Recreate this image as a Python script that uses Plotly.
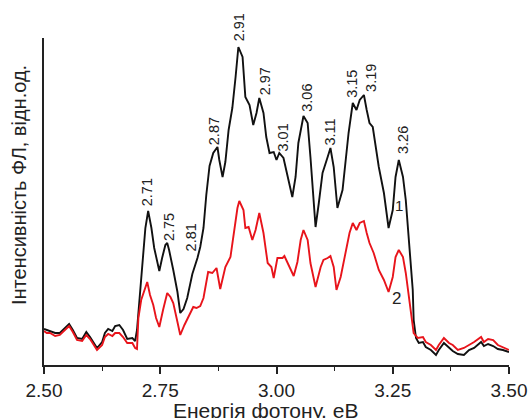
import plotly.graph_objects as go

# Photon energy (eV) and PL intensity (arb. units), curve 1 (black)
energy_1 = [2.500, 2.506, 2.513, 2.524, 2.534, 2.545, 2.554, 2.562, 2.571, 2.582,
            2.591, 2.599, 2.608, 2.614, 2.625, 2.631, 2.638, 2.647, 2.653, 2.662,
            2.670, 2.679, 2.690, 2.696, 2.700, 2.705, 2.711, 2.718, 2.724, 2.731,
            2.737, 2.744, 2.748, 2.754, 2.761, 2.765, 2.769, 2.778, 2.787, 2.793,
            2.800, 2.808, 2.819, 2.830, 2.836, 2.843, 2.849, 2.856, 2.864, 2.873,
            2.877, 2.884, 2.890, 2.897, 2.905, 2.912, 2.918, 2.927, 2.933, 2.942,
            2.950, 2.957, 2.963, 2.972, 2.978, 2.985, 2.994, 3.000, 3.006, 3.015,
            3.022, 3.028, 3.034, 3.041, 3.047, 3.058, 3.067, 3.073, 3.080, 3.084,
            3.091, 3.099, 3.110, 3.116, 3.123, 3.131, 3.142, 3.149, 3.155, 3.164,
            3.172, 3.179, 3.188, 3.194, 3.200, 3.207, 3.213, 3.220, 3.231, 3.241,
            3.250, 3.256, 3.263, 3.272, 3.278, 3.284, 3.289, 3.293, 3.295, 3.300,
            3.306, 3.315, 3.321, 3.332, 3.343, 3.349, 3.360, 3.371, 3.379, 3.390,
            3.403, 3.414, 3.425, 3.440, 3.446, 3.455, 3.466, 3.476, 3.487, 3.500]
intensity_1 = [36, 35, 34, 32, 32, 37, 41, 35, 27, 26,
               33, 28, 22, 17, 23, 32, 36, 34, 39, 40,
               35, 26, 27, 24, 35, 65, 103, 137, 154, 137,
               117, 103, 94, 107, 120, 122, 115, 95, 73, 52,
               56, 67, 91, 107, 118, 137, 170, 199, 212, 218,
               205, 188, 203, 235, 257, 288, 318, 308, 268, 260,
               240, 252, 267, 252, 228, 212, 213, 205, 212, 207,
               193, 183, 168, 188, 222, 249, 242, 208, 165, 138,
               162, 192, 208, 217, 198, 157, 175, 205, 232, 262,
               255, 265, 270, 255, 242, 238, 218, 198, 172, 137,
               155, 188, 205, 188, 165, 125, 100, 75, 45, 27,
               22, 23, 18, 15, 10, 15, 22, 17, 14, 11,
               10, 15, 17, 23, 19, 21, 19, 16, 15, 13]

# Curve 2 (red)
energy_2 = [2.500, 2.506, 2.513, 2.524, 2.534, 2.545, 2.554, 2.562, 2.571, 2.582,
            2.591, 2.599, 2.608, 2.614, 2.625, 2.631, 2.638, 2.647, 2.653, 2.662,
            2.670, 2.679, 2.690, 2.696, 2.700, 2.703, 2.709, 2.716, 2.722, 2.728,
            2.735, 2.741, 2.748, 2.756, 2.765, 2.772, 2.778, 2.787, 2.793, 2.802,
            2.810, 2.821, 2.828, 2.836, 2.843, 2.849, 2.853, 2.862, 2.871, 2.879,
            2.890, 2.901, 2.907, 2.916, 2.920, 2.929, 2.933, 2.940, 2.948, 2.955,
            2.963, 2.972, 2.981, 2.989, 2.994, 3.002, 3.013, 3.017, 3.026, 3.037,
            3.045, 3.052, 3.058, 3.067, 3.073, 3.084, 3.095, 3.101, 3.110, 3.116,
            3.123, 3.129, 3.138, 3.149, 3.157, 3.164, 3.172, 3.179, 3.188, 3.194,
            3.200, 3.209, 3.220, 3.231, 3.241, 3.250, 3.256, 3.263, 3.272, 3.278,
            3.284, 3.289, 3.293, 3.295, 3.304, 3.315, 3.321, 3.332, 3.343, 3.349,
            3.360, 3.371, 3.379, 3.390, 3.403, 3.414, 3.425, 3.440, 3.446, 3.455,
            3.466, 3.476, 3.487, 3.500]
intensity_2 = [34, 32, 32, 29, 30, 35, 39, 33, 25, 24,
               30, 26, 19, 15, 20, 28, 31, 29, 32, 32,
               28, 22, 22, 17, 16, 47, 65, 75, 83, 70,
               60, 47, 38, 55, 72, 68, 62, 43, 30, 40,
               48, 58, 57, 59, 67, 83, 93, 92, 97, 76,
               98, 108, 128, 157, 164, 155, 137, 138, 125, 135,
               152, 132, 102, 98, 87, 107, 107, 109, 100, 89,
               103, 125, 135, 125, 102, 78, 98, 105, 107, 109,
               98, 75, 88, 112, 132, 142, 135, 142, 144, 132,
               122, 112, 95, 85, 73, 88, 108, 115, 108, 92,
               72, 55, 40, 32, 27, 28, 23, 20, 15, 20,
               27, 22, 20, 15, 17, 20, 23, 28, 23, 26,
               25, 20, 18, 15]

# Peak labels
peak_text = ["2.71", "2.75", "2.81", "2.87", "2.91", "2.97", "3.01",
             "3.06", "3.11", "3.15", "3.19", "3.26"]
peak_x = [2.722, 2.769, 2.817, 2.866, 2.920, 2.976, 3.015,
          3.065, 3.114, 3.162, 3.203, 3.272]
peak_y = [173, 138, 128, 234, 338, 284, 228, 267, 233, 281, 287, 225]

curve_labels = ["1", "2"]
curve_label_x = [3.263, 3.259]
curve_label_y = [160, 67]

x_title = "Енергія фотону, еВ"
y_title = "Інтенсивність ФЛ, відн.од."

Y_MAX = 327
FONT = "Liberation Sans, Arial, sans-serif"
INK = "#222222"

fig = go.Figure()
fig.add_trace(go.Scatter(x=energy_1, y=intensity_1, mode="lines",
                         line=dict(color="#111111", width=1.9), showlegend=False))
fig.add_trace(go.Scatter(x=energy_2, y=intensity_2, mode="lines",
                         line=dict(color="#e8141b", width=1.9), showlegend=False))

for t, x, y in zip(peak_text, peak_x, peak_y):
    fig.add_annotation(x=x, y=y / Y_MAX, xref="x", yref="paper", text=t,
                       textangle=-90, showarrow=False,
                       xanchor="center", yanchor="middle",
                       font=dict(size=14.5, color=INK, family=FONT))
for i, (t, x, y) in enumerate(zip(curve_labels, curve_label_x, curve_label_y)):
    fig.add_annotation(x=x, y=y / Y_MAX, xref="x", yref="paper", text=t,
                       showarrow=False, xanchor="center", yanchor="middle",
                       font=dict(size=15 if i == 0 else 17, color=INK, family=FONT))

# axis titles
fig.add_annotation(x=0.477, y=-0.138, xref="paper", yref="paper", text=x_title,
                   showarrow=False, xanchor="center", yanchor="middle",
                   font=dict(size=21, color=INK, family=FONT))
fig.add_annotation(x=-0.054, y=0.55, xref="paper", yref="paper", text=y_title,
                   textangle=-90, showarrow=False, xanchor="center", yanchor="middle",
                   font=dict(size=20, color=INK, family=FONT))

fig.update_layout(
    width=529, height=418,
    margin=dict(l=44, r=20, t=38, b=53),
    paper_bgcolor="white", plot_bgcolor="white",
    font=dict(family=FONT, color=INK),
    xaxis=dict(range=[2.5, 3.5], tick0=2.5, dtick=0.25, tickformat=".2f",
               automargin=False,
               showline=True, linecolor=INK, linewidth=1.5,
               ticks="outside", ticklen=7, tickwidth=1.5, tickcolor=INK,
               minor=dict(dtick=0.125, ticks="outside", ticklen=4, tickwidth=1.2,
                          tickcolor=INK),
               showgrid=False, zeroline=False,
               tickfont=dict(size=19, family=FONT, color=INK)),
    yaxis=dict(range=[0, Y_MAX], automargin=False,
               showline=True, linecolor=INK, linewidth=1.5,
               ticks="", showticklabels=False, showgrid=False, zeroline=False),
)

fig.write_html("out.html", config={"displayModeBar": False},
               post_script="document.body.style.margin='0';"
                           "document.body.style.padding='0';")
